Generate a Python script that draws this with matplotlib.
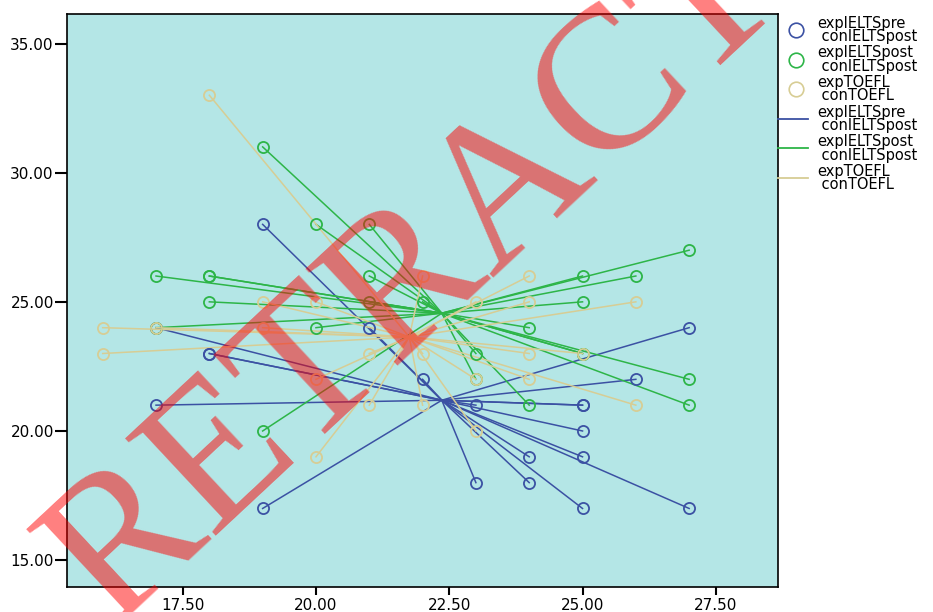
import matplotlib
matplotlib.use("Agg")
import matplotlib.pyplot as plt
from matplotlib.lines import Line2D

# Paired scores (x = exp group, y = con group)
pre_x = [19, 18, 18, 17, 19, 17, 21, 22, 23, 25, 25, 25, 24, 25, 23, 24, 25, 27, 27, 26]
pre_y = [28, 23, 23, 21, 17, 24, 24, 22, 21, 21, 21, 20, 19, 19, 18, 18, 17, 17, 24, 22]

post_x = [19, 20, 21, 17, 18, 18, 21, 18, 21, 22, 17, 20, 19, 23, 23, 24, 24, 25, 25, 25, 25, 26, 27, 27, 27]
post_y = [31, 28, 28, 26, 26, 26, 26, 25, 25, 25, 24, 24, 20, 23, 22, 24, 21, 26, 25, 23, 23, 26, 27, 22, 21]

toefl_x = [18, 16, 16, 17, 19, 19, 20, 20, 20, 21, 21, 22, 22, 22, 23, 23, 23, 24, 24, 24, 24, 25, 26, 26]
toefl_y = [33, 24, 23, 24, 25, 24, 25, 22, 19, 23, 21, 26, 23, 21, 25, 22, 20, 26, 25, 23, 22, 23, 25, 21]

# spike centres as drawn in the chart
centroids = [(22.36, 21.19), (22.36, 24.56), (21.75, 23.64)]

labels = ["expIELTSpre\n conIELTSpost",
          "expIELTSpost\n conIELTSpost",
          "expTOEFL\n conTOEFL"]
colors = ["#3B51A3", "#2DB548", "#D7CD94"]

xticks = [17.5, 20.0, 22.5, 25.0, 27.5]
yticks = [15.0, 20.0, 25.0, 30.0, 35.0]

series = [(pre_x, pre_y), (post_x, post_y), (toefl_x, toefl_y)]

fig = plt.figure(figsize=(9.33, 6.12), dpi=100)
ax = fig.add_axes([0.0718, 0.0413, 0.7617, 0.9352])
ax.set_facecolor("#B4E6E6")

for (xs, ys), (cx, cy), col in zip(series, centroids, colors):
    for x, y in zip(xs, ys):
        ax.plot([x, cx], [y, cy], color=col, lw=1.1, zorder=2)
    ax.plot(xs, ys, ls="none", marker="o", ms=8, mfc="none", mec=col, mew=1.3, zorder=3)

ax.set_xlim(15.33, 28.66)
ax.set_ylim(13.97, 36.13)
ax.set_xticks(xticks)
ax.set_xticklabels([f"{t:.2f}" for t in xticks])
ax.set_yticks(yticks)
ax.set_yticklabels([f"{t:.2f}" for t in yticks])
ax.tick_params(axis="x", length=6, width=1.5, pad=2, labelsize=11)
ax.tick_params(axis="y", length=8.5, width=1.5, pad=1, labelsize=11)
for s in ax.spines.values():
    s.set_linewidth(1.2)
    s.set_color("black")

# legend drawn by hand to get SPSS-like spacing
W, H = 933, 612
def fx(px):
    return px / W
def fy(py):
    return 1 - py / H

for i, lab in enumerate(labels + labels):
    col = colors[i % 3]
    mid = 30 + i * 29.6
    if i < 3:
        fig.add_artist(Line2D([fx(796)], [fy(mid)], marker="o", ms=10.5, mfc="none",
                              mec=col, mew=1.2, transform=fig.transFigure))
    else:
        fig.add_artist(Line2D([fx(778), fx(808)], [fy(mid), fy(mid)], color=col,
                              lw=1.3, transform=fig.transFigure))
    fig.text(fx(817), fy(mid), lab, fontsize=10.5, va="center", ha="left",
             linespacing=0.85)

# retraction watermark
fig.text(0.552, 0.698, "RETRACTED", family="Liberation Serif", fontsize=146,
         color="red", alpha=0.5, rotation=43, rotation_mode="anchor",
         ha="center", va="center", zorder=10)

fig.savefig("out.png", dpi=100)
